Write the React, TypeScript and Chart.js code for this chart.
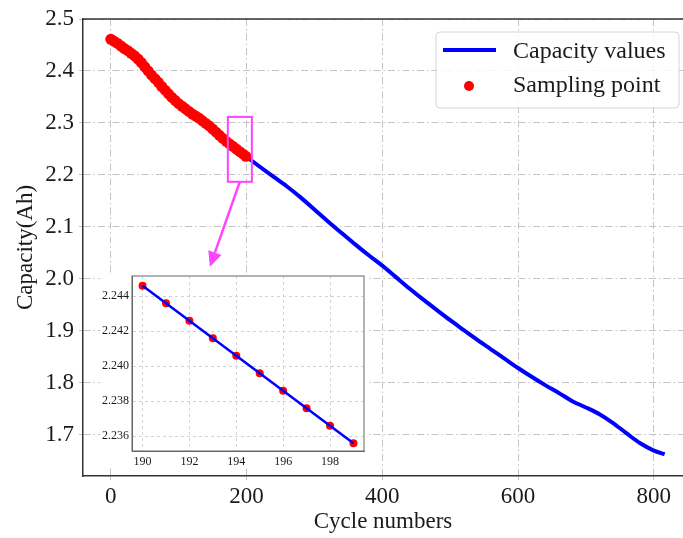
import React, { useEffect, useRef } from "react";
import { Chart, registerables } from "chart.js";

Chart.register(...registerables);

// ---------- data ----------
const capacityCycles = [0, 20, 40, 60, 80, 100, 120, 140, 160, 180, 200, 220, 240, 260, 280, 300, 320, 340, 360, 380, 400, 420, 440, 460, 480, 500, 520, 540, 560, 580, 600, 620, 640, 660, 680, 700, 720, 740, 760, 780, 800, 816];
const capacityValues = [2.461, 2.443, 2.423, 2.392, 2.363, 2.337, 2.317, 2.299, 2.276, 2.2546, 2.2346, 2.215, 2.196, 2.177, 2.156, 2.133, 2.11, 2.088, 2.066, 2.045, 2.025, 2.003, 1.981, 1.96, 1.94, 1.92, 1.901, 1.882, 1.864, 1.846, 1.828, 1.811, 1.795, 1.78, 1.764, 1.752, 1.739, 1.722, 1.702, 1.683, 1.669, 1.662];

const sampleCycles = [0, 5, 10, 15, 20, 25, 30, 35, 40, 45, 50, 55, 60, 65, 70, 75, 80, 85, 90, 95, 100, 105, 110, 115, 120, 125, 130, 135, 140, 145, 150, 155, 160, 165, 170, 175, 180, 185, 190, 195, 199];
const sampleValues = [2.461, 2.457, 2.453, 2.448, 2.443, 2.439, 2.434, 2.429, 2.423, 2.416, 2.408, 2.4, 2.392, 2.385, 2.378, 2.37, 2.363, 2.356, 2.349, 2.343, 2.337, 2.332, 2.327, 2.322, 2.317, 2.313, 2.309, 2.304, 2.299, 2.294, 2.288, 2.282, 2.276, 2.27, 2.2645, 2.2595, 2.2546, 2.2496, 2.2446, 2.2396, 2.2356];

const zoomCycles = [190, 191, 192, 193, 194, 195, 196, 197, 198, 199];
const zoomValues = [2.2446, 2.2436, 2.2426, 2.2416, 2.2406, 2.2396, 2.2386, 2.2376, 2.2366, 2.2356];

const mainXTicks = [0, 200, 400, 600, 800];
const mainYTicks = [1.7, 1.8, 1.9, 2.0, 2.1, 2.2, 2.3, 2.4, 2.5];
const zoomXTicks = [190, 192, 194, 196, 198];
const zoomYTicks = [2.236, 2.238, 2.24, 2.242, 2.244];

const legendLabels = ["Capacity values", "Sampling point"];
const xTitle = "Cycle numbers";
const yTitle = "Capacity(Ah)";

// zoom box and arrow in data coordinates
const zoomBox = { x0: 172.4, x1: 207.8, y0: 2.3115, y1: 2.1865 };
const arrowFrom = { x: 190, y: 2.1865 };
const arrowTo = { x: 146, y: 2.023 };

// ---------- styles ----------
const SERIF = "'Liberation Serif', 'Times New Roman', serif";
const BLUE = "#0000ff";
const RED = "#ff0000";
const MAGENTA = "#ff44ff";
const TEXT = "#1a1a1a";

const mainDecor = {
  id: "mainDecor",
  afterDatasetsDraw(chart: any) {
    const { ctx, scales } = chart;
    const x = scales.x;
    const y = scales.y;
    ctx.save();
    ctx.strokeStyle = MAGENTA;
    ctx.lineWidth = 2;
    const rx0 = x.getPixelForValue(zoomBox.x0);
    const rx1 = x.getPixelForValue(zoomBox.x1);
    const ry0 = y.getPixelForValue(zoomBox.y0);
    const ry1 = y.getPixelForValue(zoomBox.y1);
    ctx.strokeRect(rx0, ry0, rx1 - rx0, ry1 - ry0);
    const sx = x.getPixelForValue(arrowFrom.x);
    const sy = y.getPixelForValue(arrowFrom.y);
    const tx = x.getPixelForValue(arrowTo.x);
    const ty = y.getPixelForValue(arrowTo.y);
    const ang = Math.atan2(ty - sy, tx - sx);
    const headLen = 15;
    const headHalf = 7;
    const bx = tx - headLen * Math.cos(ang);
    const by = ty - headLen * Math.sin(ang);
    ctx.lineWidth = 2.5;
    ctx.beginPath();
    ctx.moveTo(sx, sy);
    ctx.lineTo(bx, by);
    ctx.stroke();
    ctx.fillStyle = MAGENTA;
    ctx.beginPath();
    ctx.moveTo(tx, ty);
    ctx.lineTo(bx + headHalf * Math.sin(ang), by - headHalf * Math.cos(ang));
    ctx.lineTo(bx - headHalf * Math.sin(ang), by + headHalf * Math.cos(ang));
    ctx.closePath();
    ctx.fill();
    ctx.restore();
  },
  afterDraw(chart: any) {
    const { ctx, chartArea } = chart;
    ctx.save();
    ctx.strokeStyle = "#333";
    ctx.lineWidth = 1.5;
    ctx.beginPath();
    ctx.moveTo(chartArea.left, chartArea.top);
    ctx.lineTo(chartArea.right, chartArea.top);
    ctx.stroke();
    const w = 243;
    const h = 76;
    const lx = chartArea.right - 4 - w;
    const ly = chartArea.top + 13;
    const r = 4;
    ctx.beginPath();
    ctx.moveTo(lx + r, ly);
    ctx.lineTo(lx + w - r, ly);
    ctx.quadraticCurveTo(lx + w, ly, lx + w, ly + r);
    ctx.lineTo(lx + w, ly + h - r);
    ctx.quadraticCurveTo(lx + w, ly + h, lx + w - r, ly + h);
    ctx.lineTo(lx + r, ly + h);
    ctx.quadraticCurveTo(lx, ly + h, lx, ly + h - r);
    ctx.lineTo(lx, ly + r);
    ctx.quadraticCurveTo(lx, ly, lx + r, ly);
    ctx.closePath();
    ctx.fillStyle = "rgba(255,255,255,0.85)";
    ctx.fill();
    ctx.strokeStyle = "#d4d4d4";
    ctx.lineWidth = 1;
    ctx.stroke();
    ctx.strokeStyle = BLUE;
    ctx.lineWidth = 4;
    ctx.beginPath();
    ctx.moveTo(lx + 7, ly + 18);
    ctx.lineTo(lx + 60, ly + 18);
    ctx.stroke();
    ctx.fillStyle = RED;
    ctx.beginPath();
    ctx.arc(lx + 33, ly + 54, 5, 0, Math.PI * 2);
    ctx.fill();
    ctx.fillStyle = TEXT;
    ctx.font = `24px ${SERIF}`;
    ctx.textBaseline = "middle";
    ctx.textAlign = "left";
    ctx.fillText(legendLabels[0], lx + 77, ly + 20);
    ctx.fillText(legendLabels[1], lx + 77, ly + 54);
    ctx.restore();
  },
};

const insetDecor = {
  id: "insetDecor",
  beforeDraw(chart: any) {
    const { ctx, width, height } = chart;
    ctx.save();
    ctx.fillStyle = "#ffffff";
    ctx.fillRect(0, 0, width, height);
    ctx.restore();
  },
  afterDraw(chart: any) {
    const { ctx, chartArea } = chart;
    ctx.save();
    ctx.strokeStyle = "#666";
    ctx.lineWidth = 1;
    ctx.strokeRect(chartArea.left, chartArea.top, chartArea.right - chartArea.left, chartArea.bottom - chartArea.top);
    ctx.restore();
  },
};

const noPad = (s: any) => {
  s.paddingLeft = 0;
  s.paddingRight = 0;
  s.paddingTop = 0;
  s.paddingBottom = 0;
};

export default function App() {
  const mainRef = useRef<HTMLCanvasElement>(null);
  const insetRef = useRef<HTMLCanvasElement>(null);

  useEffect(() => {
    document.body.style.margin = "0";
    Chart.defaults.font.family = SERIF;

    const main = new Chart(mainRef.current as HTMLCanvasElement, {
      type: "line",
      data: {
        datasets: [
          {
            label: legendLabels[1],
            data: sampleCycles.map((c, i) => ({ x: c, y: sampleValues[i] })),
            showLine: false,
            pointRadius: 5.5,
            pointBackgroundColor: RED,
            pointBorderWidth: 0,
            borderColor: RED,
            backgroundColor: RED,
            order: 0,
          },
          {
            label: legendLabels[0],
            data: capacityCycles.map((c, i) => ({ x: c, y: capacityValues[i] })),
            borderColor: BLUE,
            backgroundColor: BLUE,
            borderWidth: 4,
            pointRadius: 0,
            cubicInterpolationMode: "monotone",
            fill: false,
            order: 1,
          },
        ],
      },
      options: {
        responsive: false,
        animation: false,
        devicePixelRatio: 1,
        events: [],
        layout: { autoPadding: false, padding: { top: 19, right: 0, left: 0, bottom: 0 } },
        plugins: { legend: { display: false }, tooltip: { enabled: false } },
        scales: {
          x: {
            type: "linear",
            min: -41,
            max: 843,
            afterBuildTicks: (s: any) => {
              s.ticks = mainXTicks.map((v) => ({ value: v }));
            },
            afterFit: (s: any) => {
              s.height = 62;
              noPad(s);
            },
            grid: { color: "#c4c4c4", lineWidth: 1, tickLength: 4 },
            border: { display: true, color: "#333", width: 1.5, dash: [7, 3, 1.5, 3] },
            ticks: { font: { family: SERIF, size: 23 }, color: TEXT, padding: 3, maxRotation: 0, autoSkip: false },
            title: { display: true, text: xTitle, font: { family: SERIF, size: 23 }, color: TEXT, padding: { top: 0, bottom: 2 } },
          },
          y: {
            type: "linear",
            min: 1.62,
            max: 2.5,
            afterBuildTicks: (s: any) => {
              s.ticks = mainYTicks.map((v) => ({ value: v }));
            },
            afterFit: (s: any) => {
              s.width = 83;
              noPad(s);
            },
            grid: { color: "#c4c4c4", lineWidth: 1, tickLength: 4 },
            border: { display: true, color: "#333", width: 1.5, dash: [7, 3, 1.5, 3] },
            ticks: {
              font: { family: SERIF, size: 23 },
              color: TEXT,
              padding: 5,
              autoSkip: false,
              callback: (v: any) => Number(v).toFixed(1),
            },
            title: { display: true, text: yTitle, font: { family: SERIF, size: 23 }, color: TEXT, padding: { top: 12, bottom: 0 } },
          },
        },
      },
      plugins: [mainDecor],
    } as any);

    const inset = new Chart(insetRef.current as HTMLCanvasElement, {
      type: "line",
      data: {
        datasets: [
          {
            label: legendLabels[0],
            data: zoomCycles.map((c, i) => ({ x: c, y: zoomValues[i] })),
            borderColor: BLUE,
            backgroundColor: BLUE,
            borderWidth: 2.5,
            pointRadius: 0,
            fill: false,
            order: 0,
          },
          {
            label: legendLabels[1],
            data: zoomCycles.map((c, i) => ({ x: c, y: zoomValues[i] })),
            showLine: false,
            pointRadius: 4,
            pointBackgroundColor: RED,
            pointBorderWidth: 0,
            borderColor: RED,
            backgroundColor: RED,
            order: 1,
          },
        ],
      },
      options: {
        responsive: false,
        animation: false,
        devicePixelRatio: 1,
        events: [],
        layout: { autoPadding: false, padding: { top: 2, right: 2, left: 0, bottom: 0 } },
        plugins: { legend: { display: false }, tooltip: { enabled: false } },
        scales: {
          x: {
            type: "linear",
            min: 189.55,
            max: 199.45,
            afterBuildTicks: (s: any) => {
              s.ticks = zoomXTicks.map((v) => ({ value: v }));
            },
            afterFit: (s: any) => {
              s.height = 17;
              noPad(s);
            },
            grid: { color: "#d4d4d4", lineWidth: 1, drawTicks: false },
            border: { display: true, color: "#666", width: 1, dash: [3, 3] },
            ticks: { font: { family: SERIF, size: 12 }, color: TEXT, padding: 4, maxRotation: 0, autoSkip: false },
          },
          y: {
            type: "linear",
            min: 2.23515,
            max: 2.24516,
            afterBuildTicks: (s: any) => {
              s.ticks = zoomYTicks.map((v) => ({ value: v }));
            },
            afterFit: (s: any) => {
              s.width = 32;
              noPad(s);
            },
            grid: { color: "#d4d4d4", lineWidth: 1, drawTicks: false },
            border: { display: true, color: "#666", width: 1, dash: [3, 3] },
            ticks: {
              font: { family: SERIF, size: 12 },
              color: TEXT,
              padding: 3,
              autoSkip: false,
              callback: (v: any) => Number(v).toFixed(3),
            },
          },
        },
      },
      plugins: [insetDecor],
    } as any);

    return () => {
      main.destroy();
      inset.destroy();
    };
  }, []);

  return (
    <div style={{ position: "relative", width: 683, height: 538 }}>
      <canvas ref={mainRef} width={683} height={538} style={{ position: "absolute", left: 0, top: 0 }} />
      <canvas ref={insetRef} width={266} height={194} style={{ position: "absolute", left: 100, top: 274 }} />
    </div>
  );
}
